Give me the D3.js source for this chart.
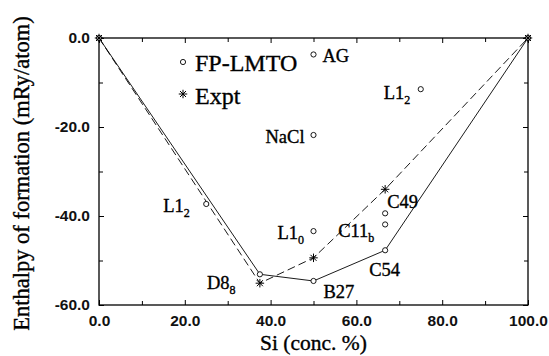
<!DOCTYPE html>
<html>
<head>
<meta charset="utf-8">
<script src="https://cdn.jsdelivr.net/npm/d3@7"></script>
<style>
  html, body { margin: 0; padding: 0; background: #fff; }
  svg { display: block; }
</style>
</head>
<body>
<div id="grafico"></div>
<script>
// FP-LMTO calculated enthalpies (Si conc. %, mRy/atom)
const fpX = [0, 25, 37.5, 50, 50, 50, 50, 66.7, 66.7, 66.7, 75, 100];
const fpY = [0, -37.3, -53.1, -54.6, -43.4, -21.8, -3.7, -47.7, -41.9, -39.4, -11.5, 0];
// convex hull of the calculated points (solid line)
const hullX = [0, 37.5, 50, 66.7, 100];
const hullY = [0, -53.1, -54.6, -47.7, 0];
// experiment (stars, dashed line)
const exX = [0, 37.5, 50, 66.7, 100];
const exY = [0, -55.1, -49.4, -34.0, 0];

const xMajor = [0, 20, 40, 60, 80, 100];
const xMinor = [10, 30, 50, 70, 90];
const yMajor = [0, -20, -40, -60];
const yMinor = [-10, -30, -50];

// structure labels: text, subscript, anchor point (data units), pixel offset
const labels = [
  { t: 'AG',   s: '',  x: 50,   y: -3.7,  dx: 9,   dy: 8 },
  { t: 'NaCl', s: '',  x: 50,   y: -21.8, dx: -48, dy: 8 },
  { t: 'L1',   s: '2', x: 75,   y: -11.5, dx: -37, dy: 10 },
  { t: 'L1',   s: '2', x: 25,   y: -37.3, dx: -43, dy: 8 },
  { t: 'L1',   s: '0', x: 50,   y: -43.4, dx: -36, dy: 8 },
  { t: 'C11',  s: 'b', x: 66.7, y: -41.9, dx: -47, dy: 13 },
  { t: 'C49',  s: '',  x: 66.7, y: -39.4, dx: 2,   dy: -5 },
  { t: 'C54',  s: '',  x: 66.7, y: -47.7, dx: -16, dy: 26 },
  { t: 'D8',   s: '8', x: 37.5, y: -53.1, dx: -53, dy: 15 },
  { t: 'B27',  s: '',  x: 50,   y: -54.6, dx: 10,  dy: 17 }
];

const margin = { top: 38, right: 21, bottom: 51, left: 99 };
const W = 549, H = 356;
const width = W - margin.left - margin.right;
const height = H - margin.top - margin.bottom;

const svgBase = d3.select('#grafico').append('svg')
  .attr('width', W).attr('height', H);

const svg = svgBase.append('g')
  .attr('transform', `translate(${margin.left},${margin.top})`);

const x = d3.scaleLinear().domain([0, 100]).range([0, width]);
const y = d3.scaleLinear().domain([-60, 0]).range([height, 0]);

const fmt = d => d.toFixed(1);
const tickFont = (g) => g.selectAll('text')
  .style('font-family', '"Liberation Sans", Arial, sans-serif')
  .style('font-size', '15.5px')
  .style('font-weight', 'bold')
  .attr('fill', '#111');

function ticksOnly(g) {
  g.select('.domain').remove();
  g.selectAll('line').attr('stroke', '#000');
}

// bottom
svg.append('g').attr('transform', `translate(0,${height})`)
  .call(d3.axisBottom(x).tickValues(xMajor).tickSize(-5).tickPadding(10).tickFormat(fmt))
  .call(ticksOnly).call(tickFont);
svg.append('g').attr('transform', `translate(0,${height})`)
  .call(d3.axisBottom(x).tickValues(xMinor).tickSize(-4).tickFormat(''))
  .call(ticksOnly);
// top
svg.append('g')
  .call(d3.axisTop(x).tickValues(xMajor).tickSize(-5).tickFormat(''))
  .call(ticksOnly);
svg.append('g')
  .call(d3.axisTop(x).tickValues(xMinor).tickSize(-4).tickFormat(''))
  .call(ticksOnly);
// left
svg.append('g')
  .call(d3.axisLeft(y).tickValues(yMajor).tickSize(-5).tickPadding(9).tickFormat(fmt))
  .call(ticksOnly).call(tickFont);
svg.append('g')
  .call(d3.axisLeft(y).tickValues(yMinor).tickSize(-4).tickFormat(''))
  .call(ticksOnly);
// right
svg.append('g').attr('transform', `translate(${width},0)`)
  .call(d3.axisRight(y).tickValues(yMajor).tickSize(-5).tickFormat(''))
  .call(ticksOnly);
svg.append('g').attr('transform', `translate(${width},0)`)
  .call(d3.axisRight(y).tickValues(yMinor).tickSize(-4).tickFormat(''))
  .call(ticksOnly);

svg.append('rect')
  .attr('width', width).attr('height', height)
  .attr('fill', 'none').attr('stroke', '#000').attr('stroke-width', 1.3);

// lines
const line = d3.line().x(d => x(d[0])).y(d => y(d[1]));
svg.append('path')
  .datum(d3.zip(hullX, hullY))
  .attr('d', line).attr('fill', 'none').attr('stroke', '#000').attr('stroke-width', 0.9);
svg.append('path')
  .datum(d3.zip(exX, exY))
  .attr('d', line).attr('fill', 'none').attr('stroke', '#000').attr('stroke-width', 0.9)
  .attr('stroke-dasharray', '8,4');

// star symbol (plus + cross), xmgrace style
const star = {
  draw(ctx, size) {
    const r = Math.sqrt(size);
    const q = r * Math.SQRT1_2;
    ctx.moveTo(0, -r); ctx.lineTo(0, r);
    ctx.moveTo(-r, 0); ctx.lineTo(r, 0);
    ctx.moveTo(-q, -q); ctx.lineTo(q, q);
    ctx.moveTo(-q, q); ctx.lineTo(q, -q);
  }
};
const starPath = d3.symbol().type(star).size(18)();

svg.selectAll('.fp')
  .data(d3.zip(fpX, fpY))
  .enter().append('circle')
  .attr('class', 'fp')
  .attr('cx', d => x(d[0])).attr('cy', d => y(d[1]))
  .attr('r', 2.6)
  .attr('fill', '#fff').attr('stroke', '#000').attr('stroke-width', 0.9);

svg.selectAll('.ex')
  .data(d3.zip(exX, exY))
  .enter().append('path')
  .attr('class', 'ex')
  .attr('transform', d => `translate(${x(d[0])},${y(d[1])})`)
  .attr('d', starPath)
  .attr('fill', 'none').attr('stroke', '#000').attr('stroke-width', 1);

// structure labels (thin stroke to match the heavier print)
const serif = '"Liberation Serif", "Times New Roman", serif';
const heavy = (sel) => sel.attr('fill', '#000').attr('stroke', '#000').attr('stroke-width', 0.35);

const lab = svg.selectAll('.lab')
  .data(labels)
  .enter().append('text')
  .attr('class', 'lab')
  .attr('x', d => x(d.x) + d.dx)
  .attr('y', d => y(d.y) + d.dy)
  .style('font-family', serif)
  .style('font-size', '18.5px')
  .call(heavy);
lab.append('tspan').text(d => d.t);
lab.filter(d => d.s).append('tspan')
  .attr('dy', 5)
  .style('font-size', '12px')
  .text(d => d.s);

// legend
const legend = svg.append('g').attr('transform', `translate(${183 - margin.left},${62 - margin.top})`);
legend.append('circle').attr('r', 2.6)
  .attr('fill', '#fff').attr('stroke', '#000').attr('stroke-width', 0.9);
legend.append('text').attr('x', 12).attr('y', 9)
  .style('font-family', serif).style('font-size', '24px').call(heavy).text('FP-LMTO');
legend.append('path').attr('transform', 'translate(0,32)').attr('d', starPath)
  .attr('fill', 'none').attr('stroke', '#000').attr('stroke-width', 1);
legend.append('text').attr('x', 12).attr('y', 42)
  .style('font-family', serif).style('font-size', '24px').call(heavy).text('Expt');

// axis titles
svgBase.append('text')
  .attr('x', margin.left + width / 2)
  .attr('y', 350)
  .attr('text-anchor', 'middle')
  .style('font-family', serif).style('font-size', '21.5px')
  .call(heavy)
  .text('Si (conc. %)');

svgBase.append('text')
  .attr('transform', `translate(29,${margin.top + height / 2 + 2}) rotate(-90)`)
  .attr('text-anchor', 'middle')
  .style('font-family', serif).style('font-size', '22.5px')
  .call(heavy)
  .text('Enthalpy of formation (mRy/atom)');
</script>
</body>
</html>
